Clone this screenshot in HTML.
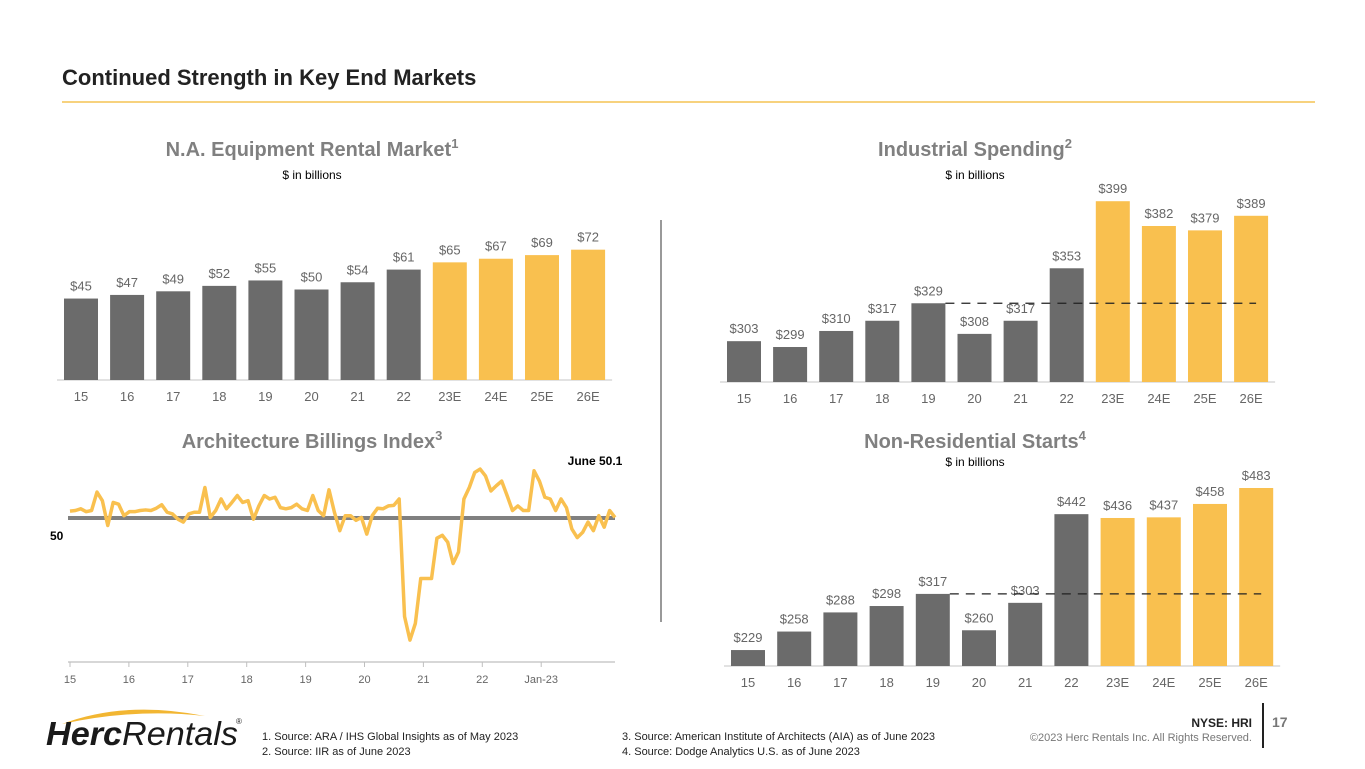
<!DOCTYPE html>
<html><head><meta charset="utf-8">
<style>
body{margin:0;width:1365px;height:769px;background:#fff;font-family:"Liberation Sans",Arial,sans-serif;overflow:hidden;position:relative}
svg{position:absolute;left:0;top:0}
</style></head>
<body>
<svg width="1365" height="769" id="s">
<text x="62" y="85" font-size="22" font-weight="bold" fill="#222">Continued Strength in Key End Markets</text>
<line x1="62" y1="102" x2="1315" y2="102" stroke="#f2b632" stroke-width="1.2"/>
<line x1="661" y1="220" x2="661" y2="622" stroke="#999" stroke-width="2"/>

<text x="312" y="156" font-size="20" font-weight="bold" fill="#808080" text-anchor="middle">N.A. Equipment Rental Market<tspan font-size="13" dy="-8">1</tspan></text>
<text x="312" y="179" font-size="12" fill="#000" text-anchor="middle">$ in billions</text>
<text x="975" y="156" font-size="20" font-weight="bold" fill="#808080" text-anchor="middle">Industrial Spending<tspan font-size="13" dy="-8">2</tspan></text>
<text x="975" y="179" font-size="12" fill="#000" text-anchor="middle">$ in billions</text>
<text x="312" y="448" font-size="20" font-weight="bold" fill="#808080" text-anchor="middle">Architecture Billings Index<tspan font-size="13" dy="-8">3</tspan></text>
<text x="975" y="448" font-size="20" font-weight="bold" fill="#808080" text-anchor="middle">Non-Residential Starts<tspan font-size="13" dy="-8">4</tspan></text>
<text x="975" y="466" font-size="12" fill="#000" text-anchor="middle">$ in billions</text>

<g id="g1"></g><g id="g2"></g><g id="g3"></g><g id="g4"></g>

<text x="595" y="465" font-size="12" font-weight="bold" fill="#000" text-anchor="middle">June 50.1</text>
<text x="50" y="540" font-size="12" font-weight="bold" fill="#000">50</text>

<g>
<path d="M62 724 Q125 700 205 716 Q135 708 62 724Z" fill="#f2b632"/>
<text x="46" y="745" font-size="33" font-style="italic" fill="#1a1a1a" textLength="192" lengthAdjust="spacingAndGlyphs"><tspan font-weight="bold">Herc</tspan>Rentals</text>
<text x="236" y="724" font-size="8" fill="#1a1a1a">®</text>
</g>
<g font-size="11" fill="#222">
<text x="262" y="740">1.   Source: ARA / IHS Global Insights as of May 2023</text>
<text x="262" y="755">2.   Source: IIR as of June 2023</text>
<text x="622" y="740">3.   Source:  American Institute of Architects (AIA) as of June 2023</text>
<text x="622" y="755">4.   Source:  Dodge Analytics U.S. as of June 2023</text>
</g>
<text x="1252" y="727" font-size="12" font-weight="bold" fill="#222" text-anchor="end">NYSE: HRI</text>
<text x="1252" y="741" font-size="11" fill="#777" text-anchor="end">©2023 Herc Rentals Inc.  All Rights Reserved.</text>
<line x1="1263" y1="703" x2="1263" y2="748" stroke="#222" stroke-width="2"/>
<text x="1272" y="727" font-size="14" font-weight="bold" fill="#777">17</text>
</svg>
<script>
const cats=["15","16","17","18","19","20","21","22","23E","24E","25E","26E"];
const rentalVals=[45,47,49,52,55,50,54,61,65,67,69,72];
const industrialVals=[303,299,310,317,329,308,317,353,399,382,379,389];
const nonresVals=[229,258,288,298,317,260,303,442,436,437,458,483];
const abiTicks=["15","16","17","18","19","20","21","22","Jan-23"];
const abiVals=[51.2,51.3,51.6,51.1,51.3,54.5,53.0,48.7,52.7,52.4,50.4,51.1,
51.1,51.3,51.4,51.3,51.7,52.3,51.0,50.7,49.8,49.3,50.7,51.0,
51.0,55.3,50.1,51.3,53.3,51.6,52.7,53.9,52.7,53.0,49.8,52.1,
53.9,53.3,53.6,51.8,51.6,51.8,52.4,51.6,51.3,53.9,51.3,50.4,
54.9,51.0,47.8,50.4,50.4,49.6,50.1,47.2,50.4,51.7,51.6,52.1,
52.2,53.3,32.9,28.8,31.7,39.5,39.5,39.5,46.5,47.0,45.8,42.1,
44.1,53.3,55.3,57.9,58.5,57.3,54.7,55.6,56.4,53.9,51.3,52.1,
51.3,51.3,58.2,56.4,53.6,53.3,51.3,53.3,51.8,48.1,46.6,47.5,
49.3,47.8,50.4,48.4,51.3,50.1];
const NS="http://www.w3.org/2000/svg";
function mk(p,t,a){const e=document.createElementNS(NS,t);for(const k in a)e.setAttribute(k,a[k]);p.appendChild(e);return e;}
function bars(gid,vals,x0,step,base,bmin,scale,dash,name){
 const g=document.getElementById(gid);
 const y=v=>base-(v-bmin)*scale;
 mk(g,"line",{x1:x0-24,x2:x0+step*11+24,y1:base,y2:base,stroke:"#d9d9d9","stroke-width":1.5});
 vals.forEach((v,i)=>{
  const cx=x0+i*step;
  const r=mk(g,"rect",{x:cx-17,y:y(v),width:34,height:base-y(v),fill:i>=8?"#f9c04f":"#6b6b6b"});
  
  
  const t=mk(g,"text",{x:cx,y:y(v)-8,"font-size":13,fill:"#666","text-anchor":"middle"});t.textContent="$"+v;
  
  
  const c=mk(g,"text",{x:cx,y:base+21,"font-size":13,fill:"#666","text-anchor":"middle"});c.textContent=cats[i];
  
  
 });
 if(dash!==undefined){const dy=y(vals[dash]);
  const l=mk(g,"line",{x1:x0+dash*step+17,x2:x0+11*step+5,y1:dy,y2:dy,stroke:"#222","stroke-width":1.2,"stroke-dasharray":"9 7"});
  
  }
}
bars("g1",rentalVals,81,46.1,380,0,1.81,undefined,"rental");
bars("g2",industrialVals,744,46.1,382,275,1.458,4,"industrial");
bars("g4",nonresVals,748,46.2,666,204,0.638,4,"nonres");
(function(){
 const g=document.getElementById("g3");
 const xm=i=>70+i*(545/(abiVals.length-1)), y=v=>518-(v-50)*5.76;
 const xt=i=>70+i*58.9;
 mk(g,"line",{x1:68,x2:615,y1:662,y2:662,stroke:"#bfbfbf","stroke-width":1.2});
 abiTicks.forEach((t,i)=>{const x=xt(i);
  mk(g,"line",{x1:x,x2:x,y1:662,y2:667,stroke:"#bfbfbf"});
  const e=mk(g,"text",{x:x,y:683,"font-size":11,fill:"#666","text-anchor":"middle"});e.textContent=t;
  
  });
 const b=mk(g,"line",{x1:68,x2:615,y1:y(50),y2:y(50),stroke:"#808080","stroke-width":4});
 
 
 const p=mk(g,"polyline",{points:abiVals.map((v,i)=>xm(i)+","+y(v)).join(" "),fill:"none",stroke:"#f9c04f","stroke-width":3.5,"stroke-linejoin":"round"});
 
 
})();
</script>
</body></html>
